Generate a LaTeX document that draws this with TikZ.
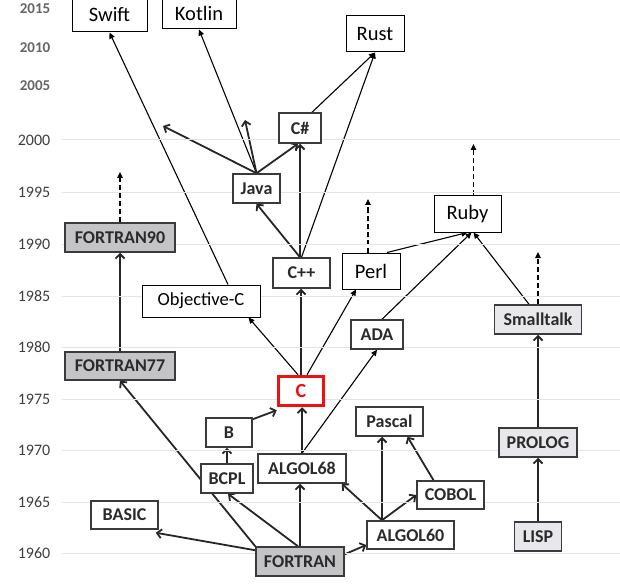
\documentclass[tikz,border=0pt]{standalone}
\usepackage{fontspec}
\setmainfont{Carlito}
\usetikzlibrary{arrows.meta,backgrounds}
\definecolor{oldtext}{HTML}{2A2A2A}
\definecolor{oldline}{HTML}{3A3A3A}
\definecolor{fgray}{HTML}{C4C4C6}
\definecolor{lgray}{HTML}{E8E8EC}
\definecolor{yeargray}{HTML}{3E3E3E}
\definecolor{gridgray}{HTML}{E4E4E4}
\definecolor{cred}{HTML}{F01010}
\tikzset{
  oldbox/.style={draw=oldline, line width=1.5pt, fill=white, inner sep=0pt, text=oldtext,
     font=\fontsize{18}{18}\selectfont\bfseries},
  newbox/.style={draw=black, line width=1pt, fill=white, inner sep=0pt, text=black,
     font=\fontsize{20.5}{21}\selectfont},
  grayfill/.style={fill=fgray},
  lightfill/.style={fill=lgray},
  oldarrow/.style={draw=black!85, line width=1.8pt, -{Straight Barb[length=4.5pt,width=9pt]}},
  newarrow/.style={draw=black, line width=1.1pt, -{Triangle[length=6pt,width=5.5pt]}},
  dasharrow/.style={draw=black, line width=1.1pt, dash pattern=on 5pt off 3pt, -{Triangle[length=6pt,width=5.5pt]}},
  yearlbl/.style={text=yeargray, font=\fontsize{16}{16}\selectfont, inner sep=0pt},
  yeartop/.style={text=yeargray!80, font=\fontsize{15}{15}\selectfont\bfseries, inner sep=0pt},
  gridline/.style={draw=gridgray, line width=0.8pt}
}
\begin{document}
\begin{tikzpicture}[x=1pt,y=-1pt]
\useasboundingbox (0,0) rectangle (620,585);
% grid lines
\foreach \yy in {139,192,244,296,347,399,450,502,553} {
  \draw[gridline] (62,\yy) -- (620,\yy);
}
% year labels
\node[yeartop] (y2015) at (35,9) {2015};
\node[yeartop] (y2010) at (35,48) {2010};
\node[yeartop] (y2005) at (35,86) {2005};
\node[yearlbl] (y2000) at (34,140) {2000};
\node[yearlbl] (y1995) at (34,192) {1995};
\node[yearlbl] (y1990) at (34,244) {1990};
\node[yearlbl] (y1985) at (34,296) {1985};
\node[yearlbl] (y1980) at (34,347) {1980};
\node[yearlbl] (y1975) at (34,399) {1975};
\node[yearlbl] (y1970) at (34,450) {1970};
\node[yearlbl] (y1965) at (34,502) {1965};
\node[yearlbl] (y1960) at (34,553) {1960};

% new boxes
\node[newbox, minimum width=75pt, minimum height=34pt] (Swift) at (109.5,15) {Swift};
\node[newbox, minimum width=74pt, minimum height=31pt] (Kotlin) at (199,13.5) {Kotlin};
\node[newbox, minimum width=58pt, minimum height=36pt] (Rust) at (375,34) {Rust};
\node[newbox, minimum width=58pt, minimum height=36pt] (Perl) at (371,271) {Perl};
\node[newbox, minimum width=67pt, minimum height=36pt] (Ruby) at (467.5,214) {Ruby};
\node[newbox, minimum width=118pt, minimum height=32pt, font=\fontsize{18.5}{19}\selectfont] (ObjC) at (201,301) {Objective-C};

% old boxes
\node[oldbox, minimum width=42pt, minimum height=30pt] (Cs) at (300,128) {C\#};
\node[oldbox, minimum width=47pt, minimum height=29pt] (Java) at (256.5,188.5) {Java};
\node[oldbox, minimum width=57pt, minimum height=30pt] (Cpp) at (301.5,273) {C++};
\node[oldbox, lightfill, minimum width=87pt, minimum height=29pt] (Smalltalk) at (538,319.5) {Smalltalk};
\node[oldbox, minimum width=52pt, minimum height=29pt] (ADA) at (377,334.5) {ADA};
\node[oldbox, grayfill, minimum width=110pt, minimum height=29pt] (F90) at (120,237.5) {FORTRAN90};
\node[oldbox, grayfill, minimum width=110pt, minimum height=28pt] (F77) at (120,366) {FORTRAN77};
\node[draw=cred, line width=3.5pt, fill=white, inner sep=0pt, text=cred,
      font=\fontsize{20}{20}\selectfont\bfseries, minimum width=45pt, minimum height=29pt] (C) at (301,391) {C};
\node[oldbox, minimum width=46pt, minimum height=29pt] (B) at (229,432.5) {B};
\node[oldbox, minimum width=88pt, minimum height=29pt] (A68) at (302,468.5) {ALGOL68};
\node[oldbox, minimum width=52pt, minimum height=29pt] (BCPL) at (227,478.5) {BCPL};
\node[oldbox, minimum width=67pt, minimum height=29pt] (Pascal) at (389.5,421.5) {Pascal};
\node[oldbox, minimum width=67pt, minimum height=28pt] (COBOL) at (450.5,495) {COBOL};
\node[oldbox, minimum width=87pt, minimum height=28pt] (A60) at (410.5,535) {ALGOL60};
\node[oldbox, grayfill, minimum width=88pt, minimum height=29pt] (FORTRAN) at (300,561.5) {FORTRAN};
\node[oldbox, minimum width=67pt, minimum height=28pt] (BASIC) at (124.5,515) {BASIC};
\node[oldbox, lightfill, minimum width=78pt, minimum height=29pt] (PROLOG) at (538,442.5) {PROLOG};
\node[oldbox, lightfill, minimum width=47pt, minimum height=29pt] (LISP) at (538,536.5) {LISP};

% free ends
\coordinate (stUp) at (538,252);
\coordinate (rubyUp) at (473.5,144);
\coordinate (perlUp) at (368,199);
\coordinate (f90Up) at (120,172);
\coordinate (javaUp) at (245,120);
\coordinate (javaLeft) at (163,126);

\begin{pgfonlayer}{background}
% FORTRAN family
\draw[oldarrow] ([yshift=-4pt]FORTRAN.north west) -- ([xshift=-3pt,yshift=-3pt]BASIC.south east);
\draw[oldarrow] (FORTRAN.north west) -- (F77.south);
\draw[oldarrow] ([xshift=-2pt]FORTRAN.north) -- ([xshift=1pt]BCPL.south);
\draw[oldarrow] (FORTRAN.north) -- (FORTRAN.north |- A68.south);
\draw[oldarrow] ([yshift=-8pt]FORTRAN.north east) -- ([yshift=-10pt]A60.west);
\draw[oldarrow] (F77.north) -- (F90.south);
\draw[dasharrow] (F90.north) -- (f90Up);
% ALGOL60 family
\draw[oldarrow] ([xshift=-28.5pt]A60.north) -- ([xshift=-5pt]A68.south east);
\draw[oldarrow] ([xshift=-28.5pt]A60.north) -- ([xshift=-28.5pt]A60.north |- Pascal.south);
\draw[oldarrow] ([xshift=-28.5pt]A60.north) -- (COBOL.west);
\draw[oldarrow] ([xshift=-17pt]COBOL.north) -- ([xshift=18pt]Pascal.south);
% LISP family
\draw[oldarrow] (LISP.north) -- (PROLOG.south);
\draw[oldarrow] (PROLOG.north) -- (Smalltalk.south);
\draw[newarrow] ([xshift=-9pt]Smalltalk.north) -- ([xshift=6pt]Ruby.south);
\draw[dasharrow] (Smalltalk.north) -- (stUp);
\draw[dasharrow] ([xshift=6pt]Ruby.north) -- (rubyUp);
% C family
\draw[oldarrow] (BCPL.north) -- (BCPL.north |- B.south);
\draw[oldarrow] ([yshift=-2pt]B.north east) -- ([yshift=-3pt]C.south west);
\draw[oldarrow] (A68.north) -- (A68.north |- C.south);
\draw[newarrow] (A68.north) -- (ADA.south);
\draw[newarrow] ([xshift=5pt]ADA.north) -- ([xshift=4pt]Ruby.south);
\draw[newarrow] ([xshift=16pt]Perl.north) -- (Ruby.south);
\draw[dasharrow] ([xshift=-3pt]Perl.north) -- (perlUp);
\draw[newarrow] ([xshift=-3pt]C.north) -- ([xshift=-12pt]ObjC.south east);
\draw[oldarrow] (C.north) -- (C.north |- Cpp.south);
\draw[newarrow] ([xshift=6pt]C.north) -- ([xshift=-15pt]Perl.south);
\draw[newarrow] ([xshift=27pt]ObjC.north) -- (Swift.south);
\draw[oldarrow] ([xshift=-1.5pt]Cpp.north) -- (Java.south);
\draw[oldarrow] ([xshift=-1.5pt]Cpp.north) -- ([xshift=-1.5pt]Cpp.north |- Cs.south);
\draw[newarrow] (Cpp.north) -- (Rust.south);
\draw[newarrow] ([xshift=12pt]Cs.north) -- (Rust.south);
\draw[oldarrow] (Java.north) -- ([xshift=-2pt]Cs.south);
\draw[newarrow] (Java.north) -- (Kotlin.south);
\draw[oldarrow] (Java.north) -- (javaUp);
\draw[oldarrow] (Java.north) -- (javaLeft);
\end{pgfonlayer}
\end{tikzpicture}
\end{document}
